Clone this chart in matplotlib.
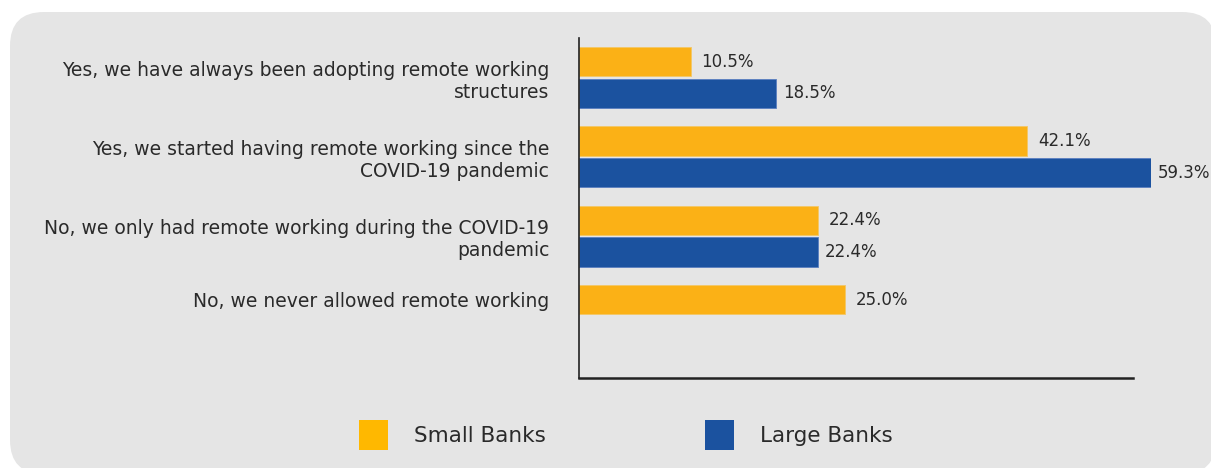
import matplotlib.pyplot as plt
import numpy as np
from matplotlib.patches import FancyBboxPatch

plt.rcParams["font.family"] = ["DejaVu Sans"]

categories = [
    "Yes, we have always been adopting remote working\nstructures",
    "Yes, we started having remote working since the\nCOVID-19 pandemic",
    "No, we only had remote working during the COVID-19\npandemic",
    "No, we never allowed remote working",
]
small_banks = [10.5, 42.1, 22.4, 25.0]
large_banks = [18.5, 59.3, 22.4, None]
series_names = ["Small Banks", "Large Banks"]

ORANGE = "#FBB116"
BLUE = "#1B529F"
BG = "#E5E5E5"
TXT = "#2a2a2a"

W, H = 1211, 468
fig = plt.figure(figsize=(W / 100, H / 100), dpi=100)
fig.patch.set_facecolor("white")

# rounded grey panel behind everything (pixel coords, y down)
bg = fig.add_axes([0, 0, 1, 1], zorder=-1)
bg.set_xlim(0, W)
bg.set_ylim(H, 0)
bg.axis("off")
bg.add_patch(FancyBboxPatch((10, 12), 1206, 462, boxstyle="round,pad=0,rounding_size=34",
                            facecolor=BG, edgecolor="none"))

ax = fig.add_axes([579 / W, 1 - 378 / H, (1151 - 579) / W, 340 / H])
ax.set_facecolor("none")

y = np.arange(len(categories))
off, bh = 0.2, 0.37
xmax = 53.7

sm = np.array(small_banks, dtype=float)
lg = np.array([np.nan if v is None else v for v in large_banks], dtype=float)

b1 = ax.barh(y - off, sm, height=bh, color=ORANGE, edgecolor="#f3c766", linewidth=0.6, label=series_names[0])
mask = ~np.isnan(lg)
b2 = ax.barh(y[mask] + off, lg[mask], height=bh, color=BLUE, edgecolor="#5a7fc0", linewidth=0.6, label=series_names[1])

for yy, v in zip(y - off, sm):
    ax.text(min(v, xmax) + 1.0, yy, f"{v:.1f}%", va="center", ha="left", fontsize=12, color=TXT, clip_on=False)
for yy, v in zip(y[mask] + off, lg[mask]):
    ax.text(min(v, xmax) + 0.65, yy, f"{v:.1f}%", va="center", ha="left", fontsize=12, color=TXT, clip_on=False)

# category labels centred on the bars that are actually drawn
label_pos = [yy if m else yy - off for yy, m in zip(y, mask)]
ax.set_yticks(label_pos)
ax.set_yticklabels(categories, fontsize=13.5, color=TXT, linespacing=1.2)
ax.tick_params(axis="y", length=0, pad=21.5)
ax.set_xticks([])

ax.set_xlim(0, xmax)
ax.set_ylim(3.79, -0.5)

for s in ["top", "right"]:
    ax.spines[s].set_visible(False)
ax.spines["left"].set_color("#222222")
ax.spines["left"].set_linewidth(1.2)
ax.spines["bottom"].set_color("#222222")
ax.spines["bottom"].set_linewidth(1.8)
ax.spines["bottom"].set_bounds(0, (1133 - 579) / (1151 - 579) * xmax)

leg = fig.legend(handles=[b1, b2], labels=series_names, loc="center",
                 bbox_to_anchor=(626 / W, 1 - 435 / H), ncol=2, frameon=False,
                 fontsize=15.5, handlelength=1.35, handleheight=1.7,
                 handletextpad=1.2, columnspacing=7.4, labelcolor=TXT)
for h, c in zip(leg.legend_handles, ["#FFB800", BLUE]):
    h.set_facecolor(c)
    h.set_edgecolor("none")

fig.savefig("out.png", dpi=100)
